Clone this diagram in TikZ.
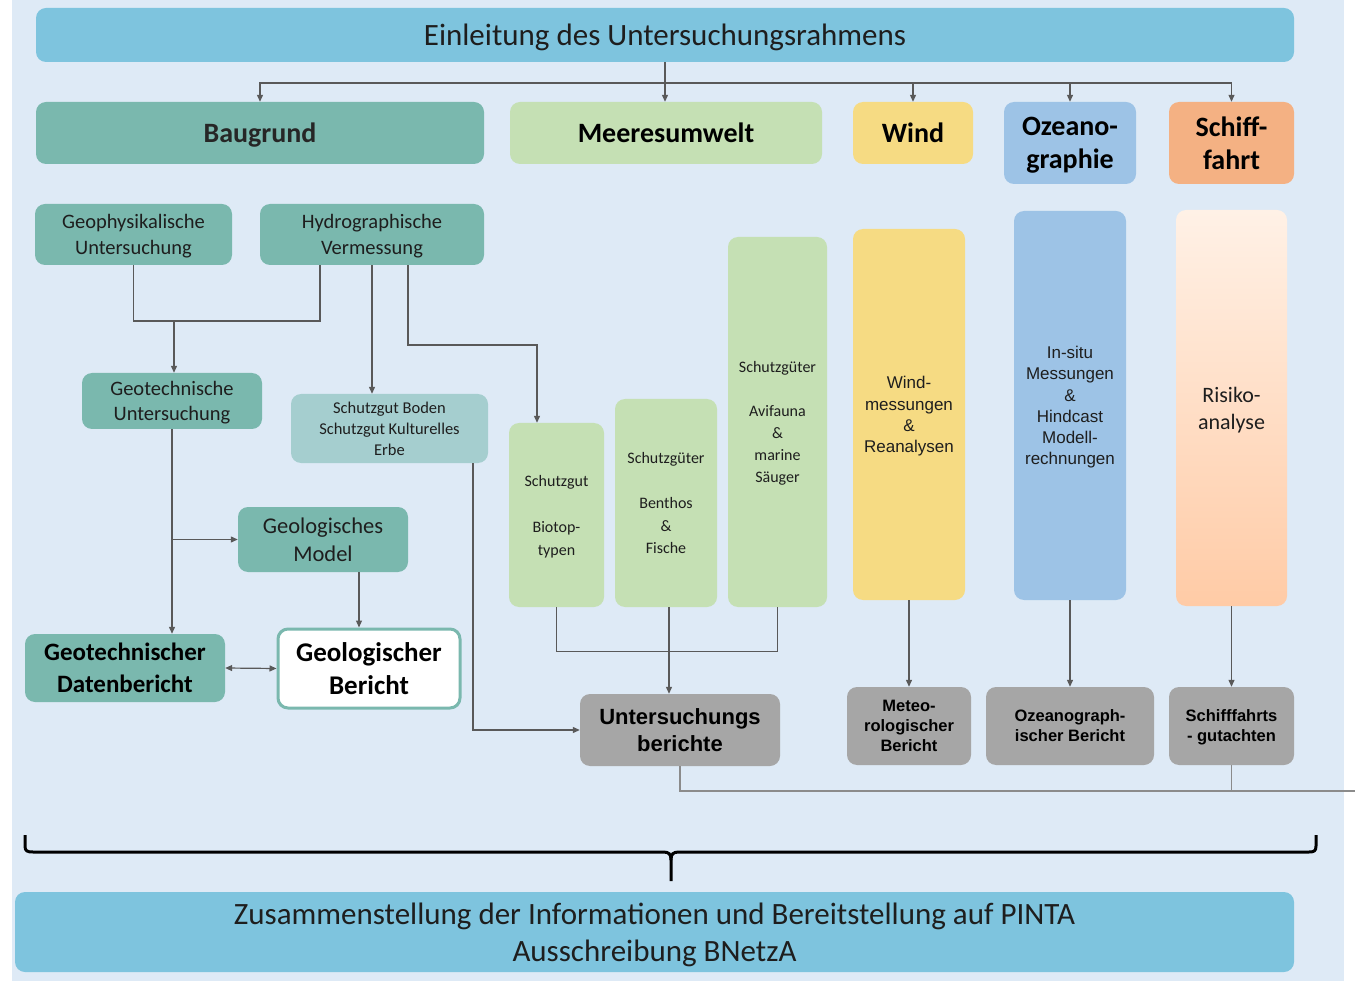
\documentclass[tikz,border=0pt]{standalone}
\usepackage{fontspec}
\setmainfont{Carlito}
\newfontfamily\arialf{Liberation Sans}
\usetikzlibrary{arrows.meta,calc}
\definecolor{bgc}{HTML}{DEEAF6}
\definecolor{titlec}{HTML}{7EC4DE}
\definecolor{tealc}{HTML}{7AB8AE}
\definecolor{ltealc}{HTML}{A5CECF}
\definecolor{greenc}{HTML}{C5E0B4}
\definecolor{yellowc}{HTML}{F6DB83}
\definecolor{bluec}{HTML}{9DC3E6}
\definecolor{orangec}{HTML}{F4B183}
\definecolor{grayc}{HTML}{A6A6A6}
\definecolor{linec}{HTML}{595959}
\definecolor{txtc}{HTML}{1E1E1E}
\definecolor{risktop}{HTML}{FFF1E6}
\definecolor{riskbot}{HTML}{FFCBA6}
\tikzset{
  box/.style={rounded corners=10pt, inner sep=0pt, align=center, text=txtc, text depth=0pt},
  fs/.style 2 args={font=\fontsize{#1}{#2}\selectfont},
  fsb/.style 2 args={font=\fontsize{#1}{#2}\selectfont\bfseries},
  fsa/.style 2 args={font=\arialf\fontsize{#1}{#2}\selectfont},
  fsab/.style 2 args={font=\arialf\fontsize{#1}{#2}\selectfont\bfseries},
  line/.style={draw=linec, line width=1.2pt},
  arr/.style={line, -{Triangle[length=7pt,width=6pt]}},
  darr/.style={line, {Triangle[length=7pt,width=6pt]}-{Triangle[length=7pt,width=6pt]}},
}
\begin{document}
\begin{tikzpicture}[x=1pt,y=-1pt]
\useasboundingbox (0,0) rectangle (1355,981);
\fill[bgc] (12,0) rectangle (1344,981);

% top
\node[box, fill=titlec, minimum width=1258, minimum height=54, fs={31}{37}] (title) at (665,35) {Einleitung des Untersuchungsrahmens};

\node[box, fill=tealc, minimum width=448, minimum height=62, fsb={28}{33}, text={black!85}] (baugrund) at (260,133) {Baugrund};
\node[box, fill=greenc, minimum width=312, minimum height=62, fsb={28}{33}, text=black] (meer) at (666,133) {Meeresumwelt};
\node[box, fill=yellowc, minimum width=120, minimum height=62, fsb={28}{33}, text=black] (wind) at (913,133) {Wind};
\node[box, fill=bluec, minimum width=132, minimum height=82, fsb={28}{33}, text=black] (ozeano) at (1070,143) {Ozeano-\\graphie};
\node[box, fill=orangec, minimum width=125, minimum height=82, fsb={28}{33}, text=black] (schiff) at (1231.5,143) {Schiff-\\fahrt};

% Baugrund branch
\node[box, fill=tealc, minimum width=197, minimum height=61, fs={20.5}{25.5}] (geophys) at (133.5,234.5) {Geophysikalische\\Untersuchung};
\node[box, fill=tealc, minimum width=224, minimum height=61, fs={20.5}{25.5}] (hydro) at (372,234.5) {Hydrographische\\Vermessung};
\node[box, fill=tealc, minimum width=180, minimum height=56, fs={20.5}{25}] (geotech) at (172,401) {Geotechnische\\Untersuchung};
\node[box, fill=ltealc, minimum width=197, minimum height=69, fs={16.5}{21}] (boden) at (389.5,428.5) {Schutzgut Boden\\Schutzgut Kulturelles\\Erbe};
\node[box, fill=tealc, minimum width=170, minimum height=65, fs={22.5}{28}] (geolmodel) at (323,539.5) {Geologisches\\Model};
\node[box, fill=tealc, minimum width=200, minimum height=68, fsb={25}{32}, text=black] (geodaten) at (125,668) {Geotechnischer\\Datenbericht};
\node[box, fill=white, draw=tealc, line width=3pt, minimum width=182, minimum height=79, fsb={27}{33}, text=black] (geolbericht) at (369,668.5) {Geologischer\\Bericht};

% Meeresumwelt branch
\node[box, fill=greenc, minimum width=95, minimum height=184, fs={16}{23}] (biotop) at (556.5,515) {Schutzgut\\\strut\\Biotop-\\typen};
\node[box, fill=greenc, minimum width=102, minimum height=208, fs={16}{22.5}] (benthos) at (666,503) {Schutzgüter\\\strut\\Benthos\\\&\\Fische};
\node[box, fill=greenc, minimum width=99, minimum height=370, fs={16}{22}] (avi) at (777.5,422) {Schutzgüter\\\strut\\Avifauna\\\&\\marine\\Säuger};
\node[box, fill=grayc, minimum width=200, minimum height=72, fsab={22}{26.5}, text=black] (unters) at (680,730) {Untersuchungs\\berichte};

% right columns
\node[box, fill=yellowc, minimum width=112, minimum height=371, fsa={17}{21.3}] (windm) at (909,414.5) {Wind-\\messungen\\\&\\Reanalysen};
\node[box, fill=bluec, minimum width=112, minimum height=389, fsa={17}{21.2}] (insitu) at (1070,405.5) {In-situ\\Messungen\\\&\\Hindcast\\Modell-\\rechnungen};
\node[box, top color=risktop, bottom color=riskbot, minimum width=111, minimum height=396, fs={22}{27}] (risiko) at (1231.5,408) {Risiko-\\analyse};

\node[box, fill=grayc, minimum width=124, minimum height=78, fsab={16.5}{20}, text=black] (meteo) at (909,726) {Meteo-\\rologischer\\Bericht};
\node[box, fill=grayc, minimum width=168, minimum height=78, fsab={16.5}{20}, text=black] (ozberi) at (1070,726) {Ozeanograph-\\ischer Bericht};
\node[box, fill=grayc, minimum width=125, minimum height=78, fsab={16.5}{20}, text=black] (schiffg) at (1231.5,726) {Schifffahrts\\- gutachten};

% bottom
\node[box, fill=titlec, minimum width=1279, minimum height=80, fs={31}{37}] (bottom) at (654.5,932) {Zusammenstellung der Informationen und Bereitstellung auf PINTA\\Ausschreibung BNetzA};

% connectors: top
\coordinate (hub) at (665,83);
\draw[line] (title.south) -- (hub);
\draw[arr] (hub) -| (baugrund.north);
\draw[arr] (hub) -- (hub |- meer.north);
\draw[arr] (hub) -| (wind.north);
\draw[arr] (hub) -| (ozeano.north);
\draw[arr] (hub) -| (schiff.north);

% Baugrund connectors
\coordinate (j1) at (174,321);
\draw[line] (geophys.south) |- ([xshift=-52pt]hydro.south |- j1) -- ([xshift=-52pt]hydro.south);
\draw[arr] (j1) -- (j1 |- geotech.north);
\draw[arr] (hydro.south) -- (hydro.south |- boden.north);
\draw[arr] ([xshift=36pt]hydro.south) -- ([xshift=36pt]hydro.south |- 0,345) -| ([xshift=-19.5pt]biotop.north);
\draw[arr] (geotech.south) -- (geotech.south |- geodaten.north);
\draw[arr] (geotech.south |- geolmodel.west) -- (geolmodel.west);
\draw[arr] ([xshift=36pt]geolmodel.south) -- ([xshift=36pt]geolmodel.south |- geolbericht.north);
\draw[darr] (geodaten.east) -- (geolbericht.west);
\draw[arr] ([xshift=83.5pt]boden.south) |- (unters.west);

% Meeresumwelt connectors
\draw[line] (biotop.south) -- ++(0,44) -| (avi.south);
\draw[arr] ([xshift=3pt]benthos.south) -- ([xshift=3pt]benthos.south |- unters.north);

% right
\draw[arr] (windm.south) -- (meteo.north);
\draw[arr] (insitu.south) -- (ozberi.north);
\draw[arr] (risiko.south) -- (schiffg.north);

\coordinate (edge) at (1355,791);
\draw[line, draw=linec!70] (unters.south) |- (edge);
\draw[line, draw=linec!70] (schiffg.south) -- (schiffg.south |- edge);

% brace
\coordinate (btip) at (671,881);
\draw[black, line width=3pt, line join=round]
  (25,835) -- (25,846) .. controls (25,851) and (27,852) .. (33,852) -- (663,852)
  .. controls (669,852) and (671,854) .. (671,860) -- (btip);
\draw[black, line width=3pt, line join=round]
  (671,860) .. controls (671,854) and (673,852) .. (679,852) -- (1309,852)
  .. controls (1314,852) and (1316,851) .. (1316,846) -- (1316,835);
\end{tikzpicture}
\end{document}
